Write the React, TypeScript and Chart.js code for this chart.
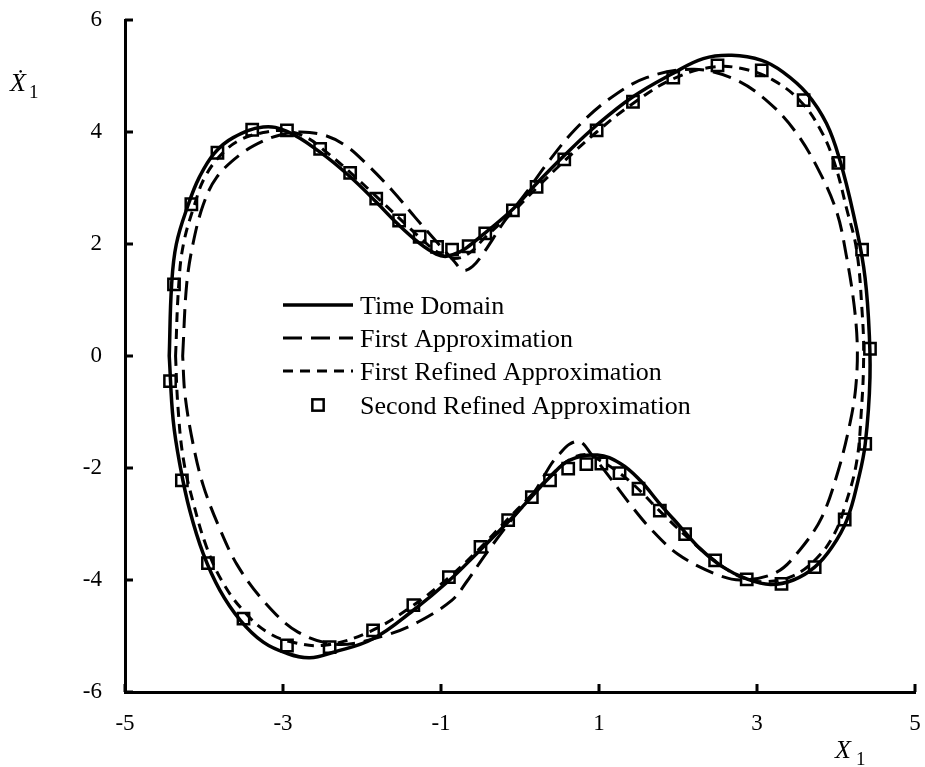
import React, { useEffect, useRef } from "react";
import { Chart, registerables } from "chart.js";

Chart.register(...registerables);

// Phase portrait: displacement X1 vs. velocity dX1/dt, traced clockwise around the closed orbit.
const timeDomainX = [-4.44, -4.41, -4.35, -4.2, -4.06, -3.87, -3.63, -3.25, -2.95, -2.53, -2.15, -1.82, -1.55, -1.27, -1.06, -0.93, -0.76, -0.65, -0.44, -0.085, 0.21, 0.56, 0.97, 1.43, 1.94, 2.32, 2.68, 3.06, 3.33, 3.63, 3.88, 4.05, 4.22, 4.35, 4.41, 4.43, 4.37, 4.28, 4.14, 3.95, 3.73, 3.46, 3.17, 2.87, 2.57, 2.28, 2.03, 1.77, 1.52, 1.27, 0.98, 0.63, 0.38, 0.085, -0.21, -0.55, -0.89, -1.35, -1.86, -2.36, -2.66, -2.95, -3.25, -3.54, -3.8, -4.01, -4.18, -4.3, -4.39, -4.44];
const timeDomainY = [0, 1.27, 2.0, 2.7, 3.19, 3.62, 3.9, 4.09, 4.01, 3.64, 3.2, 2.75, 2.36, 2.01, 1.82, 1.78, 1.86, 1.96, 2.2, 2.63, 3.08, 3.58, 4.12, 4.63, 5.05, 5.31, 5.37, 5.28, 5.07, 4.69, 4.15, 3.49, 2.54, 1.59, 0.7, -0.38, -1.57, -2.22, -2.92, -3.41, -3.77, -4.0, -4.08, -3.98, -3.77, -3.44, -3.05, -2.64, -2.22, -1.92, -1.77, -1.86, -2.16, -2.61, -3.05, -3.53, -4.0, -4.54, -5.05, -5.29, -5.39, -5.31, -5.11, -4.72, -4.18, -3.53, -2.76, -1.98, -1.15, 0];

const firstApproxX = [-4.27, -4.22, -4.14, -4.01, -3.84, -3.54, -3.25, -3.0, -2.78, -2.47, -2.2, -1.95, -1.62, -1.33, -1.05, -0.85, -0.72, -0.6, -0.48, -0.19, 0.08, 0.35, 0.7, 1.12, 1.6, 2.2, 2.72, 3.14, 3.49, 3.78, 4.01, 4.13, 4.23, 4.27, 4.25, 4.18, 4.03, 3.82, 3.55, 3.25, 2.81, 2.47, 2.0, 1.65, 1.39, 1.1, 0.9, 0.76, 0.62, 0.5, 0.4, 0.17, -0.11, -0.44, -0.68, -0.86, -1.29, -1.73, -2.3, -2.81, -3.23, -3.58, -3.82, -4.01, -4.14, -4.24, -4.27];
const firstApproxY = [0, 1.27, 2.0, 2.7, 3.19, 3.6, 3.84, 3.96, 4.0, 3.94, 3.75, 3.44, 2.96, 2.48, 2.03, 1.72, 1.53, 1.6, 1.8, 2.42, 2.92, 3.45, 4.05, 4.58, 4.97, 5.12, 4.94, 4.54, 4.0, 3.32, 2.57, 1.8, 0.9, 0.15, -0.56, -1.18, -2.04, -2.88, -3.45, -3.86, -4.0, -3.89, -3.54, -3.08, -2.64, -2.1, -1.75, -1.53, -1.58, -1.75, -1.92, -2.45, -2.93, -3.55, -4.04, -4.36, -4.75, -5.0, -5.15, -4.93, -4.4, -3.73, -3.02, -2.31, -1.56, -0.7, 0];

const firstRefinedX = [-4.36, -4.32, -4.26, -4.12, -3.99, -3.78, -3.54, -3.25, -2.98, -2.7, -2.45, -2.15, -1.82, -1.52, -1.27, -1.05, -0.85, -0.65, -0.44, -0.085, 0.21, 0.56, 0.97, 1.43, 1.94, 2.45, 2.85, 3.2, 3.55, 3.8, 3.98, 4.14, 4.26, 4.33, 4.35, 4.32, 4.26, 4.12, 3.97, 3.75, 3.45, 3.1, 2.82, 2.47, 2.09, 1.77, 1.5, 1.26, 1.03, 0.85, 0.63, 0.4, 0.12, -0.18, -0.52, -0.92, -1.38, -1.9, -2.45, -2.85, -3.2, -3.52, -3.78, -3.97, -4.13, -4.26, -4.33, -4.36];
const firstRefinedY = [0, 1.27, 2.0, 2.7, 3.19, 3.6, 3.86, 3.99, 4.02, 3.9, 3.64, 3.28, 2.85, 2.45, 2.12, 1.86, 1.74, 1.83, 2.12, 2.58, 3.0, 3.48, 4.0, 4.51, 4.95, 5.16, 5.12, 4.93, 4.55, 4.05, 3.45, 2.6, 1.9, 0.8, 0, -1.0, -1.9, -2.65, -3.2, -3.62, -3.93, -4.03, -3.96, -3.66, -3.2, -2.77, -2.38, -2.09, -1.88, -1.76, -1.85, -2.12, -2.52, -2.95, -3.45, -3.98, -4.48, -4.92, -5.16, -5.12, -4.93, -4.52, -4.0, -3.4, -2.65, -1.85, -0.9, 0];

const secondRefinedX = [-4.43, -4.38, -4.16, -3.83, -3.39, -2.95, -2.53, -2.15, -1.82, -1.53, -1.27, -1.05, -0.86, -0.65, -0.44, -0.09, 0.21, 0.56, 0.97, 1.43, 1.94, 2.5, 3.06, 3.59, 4.03, 4.33, 4.43, 4.37, 4.11, 3.73, 3.31, 2.87, 2.47, 2.09, 1.77, 1.5, 1.26, 1.03, 0.84, 0.61, 0.38, 0.15, -0.15, -0.5, -0.9, -1.35, -1.86, -2.41, -2.95, -3.5, -3.95, -4.28];
const secondRefinedY = [-0.45, 1.28, 2.71, 3.63, 4.04, 4.03, 3.7, 3.27, 2.81, 2.42, 2.13, 1.95, 1.9, 1.96, 2.19, 2.6, 3.02, 3.51, 4.03, 4.54, 4.97, 5.19, 5.1, 4.57, 3.45, 1.9, 0.13, -1.57, -2.92, -3.77, -4.07, -3.99, -3.65, -3.18, -2.76, -2.37, -2.09, -1.92, -1.93, -2.01, -2.22, -2.52, -2.93, -3.41, -3.95, -4.45, -4.9, -5.2, -5.17, -4.69, -3.7, -2.22];

const seriesNames = ["Time Domain", "First Approximation", "First Refined Approximation", "Second Refined Approximation"];
const xTicks = [-5, -3, -1, 1, 3, 5];
const yTicks = [-6, -4, -2, 0, 2, 4, 6];

const SERIF = "'Liberation Serif', 'Times New Roman', serif";

const toPoints = (xs: number[], ys: number[]) => xs.map((x, i) => ({ x, y: ys[i] }));

// Fixed scale box sizes; labels are allowed to overhang the plot edges.
const fixScaleBox = (size: { width?: number; height?: number }) => (s: any) => {
  if (size.width !== undefined) s.width = size.width;
  if (size.height !== undefined) s.height = size.height;
  s.paddingTop = 0;
  s.paddingBottom = 0;
  s.paddingLeft = 0;
  s.paddingRight = 0;
};

// Tick marks drawn on the inner side of both axes.
const innerTicks = {
  id: "innerTicks",
  afterDraw(chart: any) {
    const { ctx, chartArea, scales } = chart;
    ctx.save();
    ctx.strokeStyle = "#000";
    ctx.lineWidth = 3;
    ctx.beginPath();
    for (const v of xTicks) {
      const px = scales.x.getPixelForValue(v);
      ctx.moveTo(px, chartArea.bottom);
      ctx.lineTo(px, chartArea.bottom - 8);
    }
    for (const v of yTicks) {
      const py = scales.y.getPixelForValue(v);
      ctx.moveTo(chartArea.left, py);
      ctx.lineTo(chartArea.left + 8, py);
    }
    ctx.stroke();
    ctx.restore();
  },
};

// Axis symbols: velocity label at the top-left, displacement label at the bottom-right.
const axisSymbols = {
  id: "axisSymbols",
  afterDraw(chart: any) {
    const { ctx } = chart;
    ctx.save();
    ctx.fillStyle = "#000";
    ctx.textAlign = "left";
    ctx.textBaseline = "alphabetic";
    ctx.font = `italic 26px ${SERIF}`;
    ctx.fillText("Ẋ", 10, 91);
    ctx.fillText("X", 835, 758);
    ctx.font = `19px ${SERIF}`;
    ctx.fillText("1", 29, 98);
    ctx.fillText("1", 856, 765);
    ctx.restore();
  },
};

// Legend placed inside the plot area.
const innerLegend = {
  id: "innerLegend",
  afterDraw(chart: any) {
    const { ctx } = chart;
    const rows = [305, 338, 371, 405];
    const x0 = 283;
    const x1 = 353;
    const textX = 360;
    ctx.save();
    chart.data.datasets.forEach((ds: any, i: number) => {
      const y = rows[i];
      ctx.strokeStyle = "#000";
      if (ds.showLine) {
        ctx.lineWidth = ds.borderWidth;
        ctx.setLineDash(ds.borderDash || []);
        ctx.beginPath();
        ctx.moveTo(x0, y);
        ctx.lineTo(x1, y);
        ctx.stroke();
      } else {
        ctx.setLineDash([]);
        ctx.lineWidth = ds.pointBorderWidth;
        const half = ds.pointRadius * Math.SQRT1_2;
        ctx.strokeRect((x0 + x1) / 2 - half, y - half, 2 * half, 2 * half);
      }
      ctx.setLineDash([]);
      ctx.fillStyle = "#000";
      ctx.font = `26px ${SERIF}`;
      ctx.textAlign = "left";
      ctx.textBaseline = "alphabetic";
      ctx.fillText(seriesNames[i], textX, y + 9);
    });
    ctx.restore();
  },
};

export default function App() {
  const canvasRef = useRef<HTMLCanvasElement | null>(null);

  useEffect(() => {
    if (!canvasRef.current) return;
    const tickFont = { family: SERIF, size: 23 };
    const chart = new Chart(canvasRef.current, {
      type: "scatter",
      data: {
        datasets: [
          {
            label: seriesNames[0],
            data: toPoints(timeDomainX, timeDomainY),
            showLine: true,
            borderColor: "#000",
            borderWidth: 3.5,
            pointRadius: 0,
            tension: 0.4,
          },
          {
            label: seriesNames[1],
            data: toPoints(firstApproxX, firstApproxY),
            showLine: true,
            borderColor: "#000",
            borderWidth: 3,
            borderDash: [19, 9],
            pointRadius: 0,
            tension: 0.35,
          },
          {
            label: seriesNames[2],
            data: toPoints(firstRefinedX, firstRefinedY),
            showLine: true,
            borderColor: "#000",
            borderWidth: 3,
            borderDash: [10, 7],
            pointRadius: 0,
            tension: 0.4,
          },
          {
            label: seriesNames[3],
            data: toPoints(secondRefinedX, secondRefinedY),
            showLine: false,
            pointStyle: "rect",
            pointRadius: 8,
            pointBorderWidth: 2.5,
            pointBorderColor: "#000",
            pointBackgroundColor: "rgba(0,0,0,0)",
          },
        ] as any,
      },
      options: {
        animation: false,
        responsive: false,
        layout: { autoPadding: false, padding: { top: 20, right: 10, left: 0, bottom: 0 } },
        plugins: {
          legend: { display: false },
          tooltip: { enabled: false },
        },
        scales: {
          x: {
            type: "linear",
            min: -5,
            max: 5,
            afterBuildTicks: (s: any) => {
              s.ticks = xTicks.map((v) => ({ value: v }));
            },
            afterFit: fixScaleBox({ height: 75 }),
            grid: { display: false, drawTicks: false },
            border: { display: true, color: "#000", width: 3 },
            ticks: { font: tickFont, color: "#000", padding: 18, maxRotation: 0, autoSkip: false },
          },
          y: {
            type: "linear",
            min: -6,
            max: 6,
            afterBuildTicks: (s: any) => {
              s.ticks = yTicks.map((v) => ({ value: v }));
            },
            afterFit: fixScaleBox({ width: 125 }),
            grid: { display: false, drawTicks: false },
            border: { display: true, color: "#000", width: 3 },
            ticks: { font: tickFont, color: "#000", padding: 23, autoSkip: false },
          },
        },
      } as any,
      plugins: [innerTicks, axisSymbols, innerLegend],
    });
    return () => chart.destroy();
  }, []);

  return (
    <div style={{ position: "fixed", left: 0, top: 0, width: 925, height: 767, background: "#fff" }}>
      <canvas ref={canvasRef} width={925} height={767} />
    </div>
  );
}
